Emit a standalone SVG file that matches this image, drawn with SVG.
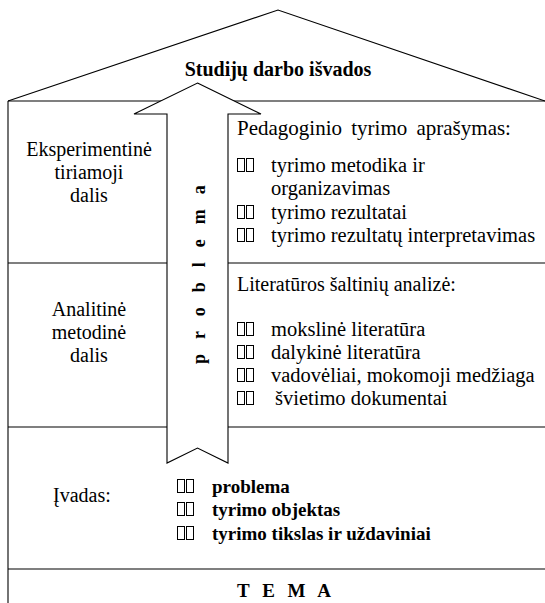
<svg xmlns="http://www.w3.org/2000/svg" xmlns:xlink="http://www.w3.org/1999/xlink" width="545" height="603" viewBox="0 0 545 603">
<style>
.t{font-family:"Liberation Serif","Times New Roman",serif;font-size:20px;fill:#000}
.r{font-size:20.5px}
.b{font-weight:bold}
.s{font-size:19px}
.m{text-anchor:middle}
.ln{stroke:#000;stroke-width:1.1;fill:none}
.bx{fill:none;stroke:#000;stroke-width:1}
</style>
<defs>
<g id="blt"><rect class="bx" x="0.5" y="0.5" width="7" height="13"/><rect class="bx" x="9.5" y="0.5" width="7" height="13"/></g>
</defs>
<rect width="545" height="603" fill="#fff"/>
<g id="connectors">
<polyline class="ln" points="8,101 278,10 545,101"/>
<line class="ln" x1="8" y1="101" x2="545" y2="101"/>
<line class="ln" x1="8" y1="263" x2="545" y2="263"/>
<line class="ln" x1="8" y1="427" x2="545" y2="427"/>
<line class="ln" x1="8" y1="569" x2="545" y2="569"/>
<line class="ln" x1="8" y1="101" x2="8" y2="603"/>
</g>
<g id="roof">
<text class="t b m" x="278" y="76">Studijų darbo išvados</text>
</g>
<g id="arrow">
<polygon points="197.5,83 261,114 228,114 228,463 197.5,448 167,463 167,114 134,114" fill="#fff" stroke="#000" stroke-width="1.1"/>
<text class="t b" x="205" y="364" transform="rotate(-90 205 364)" style="font-size:18px;letter-spacing:15px">problema</text>
</g>
<g id="eksperimentine">
<text class="t m" x="89" y="156">Eksperimentinė</text>
<text class="t m" x="89" y="179">tiriamoji</text>
<text class="t m" x="89" y="202">dalis</text>
</g>
<g id="pedagoginio">
<text class="t" x="237" y="135" style="font-size:21px;word-spacing:4px">Pedagoginio tyrimo aprašymas:</text>
<use xlink:href="#blt" x="237" y="158"/>
<text class="t r" x="271" y="172">tyrimo metodika ir</text>
<text class="t r" x="271" y="195">organizavimas</text>
<use xlink:href="#blt" x="237" y="205"/>
<text class="t r" x="271" y="219">tyrimo rezultatai</text>
<use xlink:href="#blt" x="237" y="228"/>
<text class="t r" x="271" y="242">tyrimo rezultatų interpretavimas</text>
</g>
<g id="analitine">
<text class="t m" x="89" y="316">Analitinė</text>
<text class="t m" x="89" y="339">metodinė</text>
<text class="t m" x="89" y="362">dalis</text>
</g>
<g id="literaturos">
<text class="t" x="237" y="291">Literatūros šaltinių analizė:</text>
<use xlink:href="#blt" x="237" y="322"/>
<text class="t r" x="271" y="336">mokslinė literatūra</text>
<use xlink:href="#blt" x="237" y="345"/>
<text class="t r" x="271" y="359">dalykinė literatūra</text>
<use xlink:href="#blt" x="237" y="368"/>
<text class="t r" x="271" y="382">vadovėliai, mokomoji medžiaga</text>
<use xlink:href="#blt" x="237" y="391"/>
<text class="t r" x="275" y="405">švietimo dokumentai</text>
</g>
<g id="ivadas">
<text class="t" x="53" y="502">Įvadas:</text>
<use xlink:href="#blt" x="177" y="479"/>
<text class="t b s" x="212" y="493">problema</text>
<use xlink:href="#blt" x="177" y="502"/>
<text class="t b s" x="212" y="516">tyrimo objektas</text>
<use xlink:href="#blt" x="177" y="526"/>
<text class="t b s" x="212" y="540">tyrimo tikslas ir uždaviniai</text>
</g>
<g id="tema">
<text class="t b m s" x="284" y="597" style="word-spacing:8px">T E M A</text>
</g>
</svg>
